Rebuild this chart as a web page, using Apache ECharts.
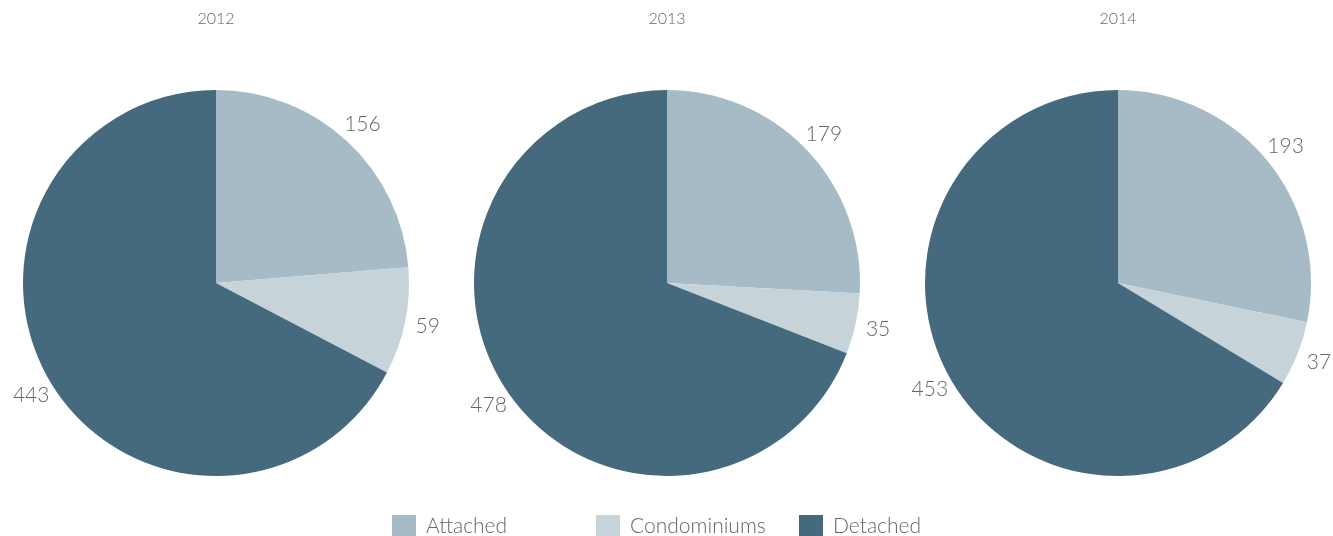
<!DOCTYPE html>
<html><head><meta charset="utf-8">
<script src="https://cdn.jsdelivr.net/npm/echarts@6/dist/echarts.min.js"></script>
<style>html,body{margin:0;padding:0;background:#fff}#c{width:1333px;height:536px}</style>
</head><body><div id="c"></div>
<script>
const years = ['2012', '2013', '2014'];
const categories = ['Attached', 'Condominiums', 'Detached'];
const attached = [156, 179, 193];
const condominiums = [59, 35, 37];
const detached = [443, 478, 453];
const colors = ['#a6bbc6', '#c6d4d9', '#45697d'];
const centersX = [216, 667, 1118];
const legendLefts = [392, 596, 799];
const FONT = 'Lato, "Open Sans", sans-serif';
const LABEL_OFFSET = 23;

const chart = echarts.init(document.getElementById('c'));
const series = years.map((y, i) => ({
  type: 'pie',
  name: y,
  center: [centersX[i], 283],
  radius: [0, 193],
  startAngle: 90,
  clockwise: true,
  avoidLabelOverlap: false,
  itemStyle: { borderWidth: 0 },
  label: { show: true, position: 'outside', color: '#666', fontSize: 21, fontWeight: 300, fontFamily: FONT, formatter: '{c}' },
  labelLine: { show: true, length: 10, length2: 0, lineStyle: { opacity: 0, width: 0 } },
  labelLayout: function (p) {
    const pts = p.labelLinePoints;
    if (!pts || pts.length < 2) return {};
    const dx = pts[1][0] - pts[0][0], dy = pts[1][1] - pts[0][1];
    const len = Math.sqrt(dx * dx + dy * dy) || 1;
    return {
      x: pts[0][0] + dx / len * LABEL_OFFSET,
      y: pts[0][1] + dy / len * LABEL_OFFSET,
      align: 'center',
      verticalAlign: 'middle'
    };
  },
  emphasis: { disabled: true },
  data: [
    { name: categories[0], value: attached[i] },
    { name: categories[1], value: condominiums[i] },
    { name: categories[2], value: detached[i] }
  ]
}));

chart.setOption({
  animation: false,
  color: colors,
  title: years.map((y, i) => ({
    text: y, left: centersX[i], top: 11, textAlign: 'center', padding: 0,
    textStyle: { color: '#666', fontSize: 16, fontWeight: 300, fontFamily: FONT }
  })),
  legend: categories.map((c, i) => ({
    data: [c], left: legendLefts[i], top: 515, padding: 0, itemWidth: 24, itemHeight: 22,
    icon: 'rect', selectedMode: false,
    textStyle: { color: '#666', fontSize: 21, fontWeight: 300, fontFamily: FONT, padding: [0, 0, 0, 5] }
  })),
  series: series
});
</script></body></html>
